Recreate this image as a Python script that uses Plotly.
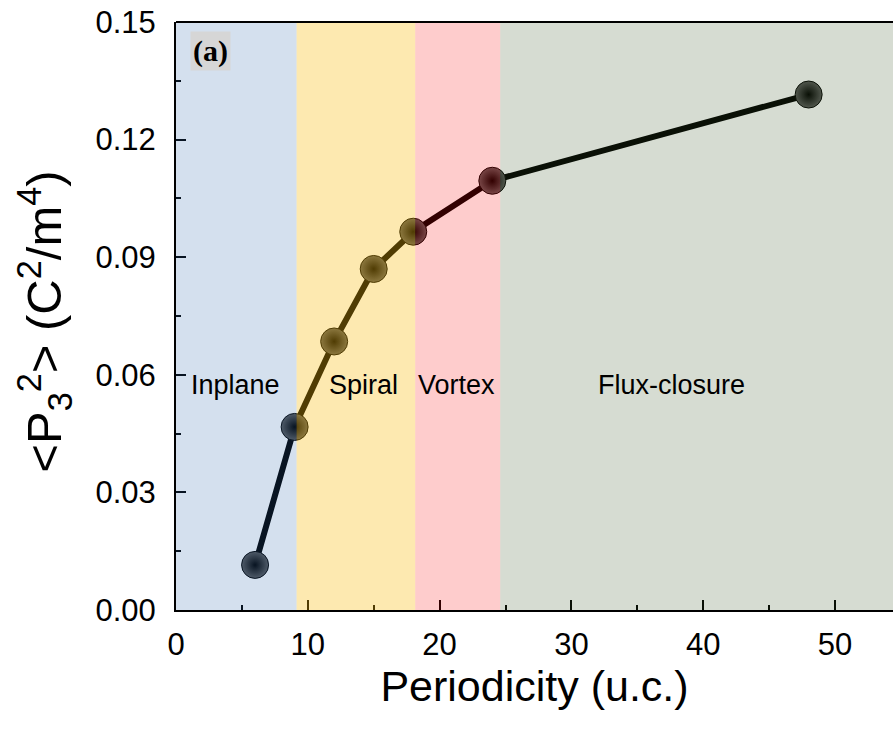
import plotly.graph_objects as go

# ---- data ----
periodicity = [6, 9, 12, 15, 18, 24, 48]
p3_squared = [0.0115, 0.0467, 0.0685, 0.0870, 0.0965, 0.1095, 0.1315]

region_names = ["Inplane", "Spiral", "Vortex", "Flux-closure"]
region_start = [0, 9.15, 18.15, 24.6]
region_end = [9.15, 18.15, 24.6, 54.4]
region_label_x = [4.55, 14.2, 21.3, 37.6]
region_label_y = [0.0574, 0.0574, 0.0574, 0.0574]
region_fill = [
    "rgba(40,100,170,0.2)",
    "rgba(249,186,8,0.32)",
    "rgba(250,0,0,0.2)",
    "rgba(50,80,30,0.2)",
]

x_ticks = [0, 10, 20, 30, 40, 50]
y_ticks = [0.00, 0.03, 0.06, 0.09, 0.12, 0.15]
y_tick_text = ["0.00", "0.03", "0.06", "0.09", "0.12", "0.15"]
y_title = "<P<sub>3</sub><sup>2</sup>> (C<sup>2</sup>/m<sup>4</sup>)"
x_title = "Periodicity (u.c.)"

fig = go.Figure()

fig.add_trace(go.Scatter(
    x=periodicity, y=p3_squared,
    mode="lines+markers",
    line=dict(color="black", width=6),
    marker=dict(size=27, color="#5a5a5a",
                gradient=dict(type="radial", color="#000000"),
                line=dict(color="#000000", width=1)),
    showlegend=False,
    hoverinfo="x+y",
))

for x0, x1, fc in zip(region_start, region_end, region_fill):
    fig.add_shape(type="rect", xref="x", yref="paper", x0=x0, x1=x1, y0=0, y1=1,
                  fillcolor=fc, line=dict(width=0), layer="above")

for name, lx, ly in zip(region_names, region_label_x, region_label_y):
    fig.add_annotation(x=lx, y=ly, text=name, showarrow=False,
                       font=dict(family="Liberation Sans, Arial", size=27, color="black"))

# top border line
fig.add_shape(type="line", xref="paper", yref="paper", x0=0, x1=1, y0=1, y1=1,
              line=dict(color="black", width=2), layer="above")

fig.add_annotation(xref="paper", yref="paper", x=0.0195, y=0.984, xanchor="left", yanchor="top",
                   text="<b>(a)</b>", showarrow=False, bgcolor="#d6d6d6",
                   font=dict(family="Liberation Serif, Times New Roman", size=30, color="black"),
                   borderpad=2)

# y-axis title as rotated annotation
fig.add_annotation(xref="paper", yref="paper", x=-0.183, y=0.49, xanchor="center", yanchor="middle",
                   text=y_title, textangle=-90, showarrow=False,
                   font=dict(family="Liberation Sans, Arial", size=49, color="black"))

axis_font = dict(family="Liberation Sans, Arial", size=31, color="black")

fig.update_xaxes(
    range=[0, 54.4], tickvals=x_ticks, ticks="inside", ticklen=10, tickwidth=2,
    tickcolor="black", showline=True, linecolor="black", linewidth=2,
    showgrid=False, zeroline=False, tickfont=axis_font, ticklabelstandoff=6,
    minor=dict(dtick=5, ticks="inside", ticklen=5, tickwidth=2, tickcolor="black", showgrid=False),
    title=dict(text=x_title,
               font=dict(family="Liberation Sans, Arial", size=43, color="black"), standoff=6),
)
fig.update_yaxes(
    range=[0, 0.15], tickvals=y_ticks, ticktext=y_tick_text, ticks="inside", ticklen=10,
    tickwidth=2, tickcolor="black", showline=True, linecolor="black", linewidth=2,
    showgrid=False, zeroline=False, tickfont=axis_font, ticklabelstandoff=12,
    minor=dict(dtick=0.015, ticks="inside", ticklen=5, tickwidth=2, tickcolor="black", showgrid=False),
)

fig.update_layout(
    width=893, height=731,
    margin=dict(l=176, r=0, t=22, b=121),
    plot_bgcolor="white", paper_bgcolor="white",
)

fig.write_html("out.html", config={"displayModeBar": False},
               post_script="document.body.style.margin='0px';")
